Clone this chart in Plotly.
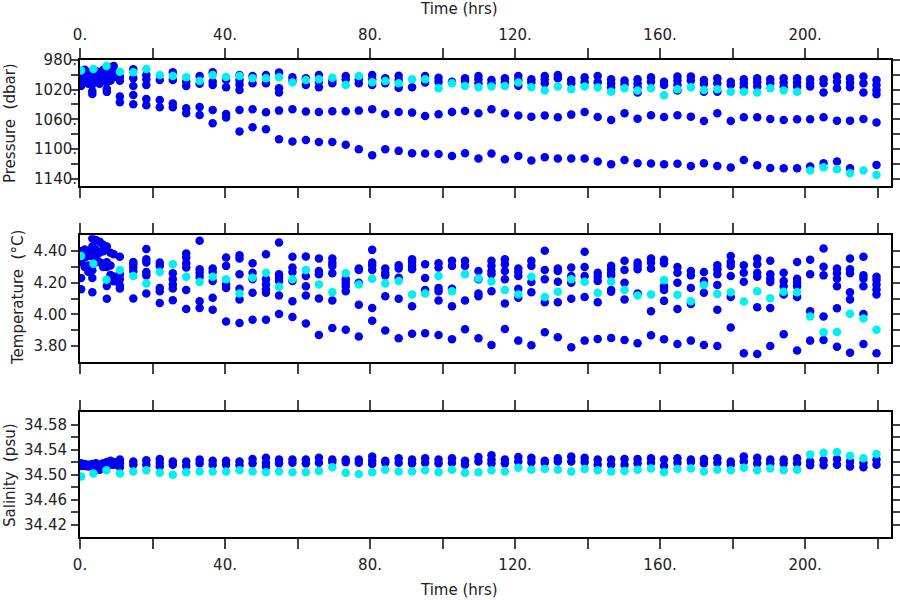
import plotly.graph_objects as go

# ---------------- data ----------------
# regular sampling times (hrs) after the initial burst
T_GRID = [11.0, 14.7, 18.3, 22.0, 25.6, 29.3, 33.0, 36.6, 40.3, 44.0,
          47.6, 51.3, 54.9, 58.6, 62.3, 65.9, 69.6, 73.3, 76.9, 80.6,
          84.2, 87.9, 91.6, 95.2, 98.9, 102.6, 106.2, 109.9, 113.5, 117.2,
          120.9, 124.5, 128.2, 131.8, 135.5, 139.2, 142.8, 146.5, 150.2, 153.8,
          157.5, 161.1, 164.8, 168.5, 172.1, 175.8, 179.5, 183.1, 186.8, 190.4,
          194.1, 197.8, 201.4, 205.1, 208.8, 212.4, 216.1, 219.7]
# initial burst of blue samples, and early cyan samples
EARLY_T = [0.3, 1.3, 2.3, 3.4, 4.4, 5.4, 6.4, 7.4, 8.4, 9.3]
CYAN_EARLY_T = [0.3, 3.7, 7.3]

# Pressure (dbar)
pres_blue_early = [
    [1000, 1008, 1015], [993, 1003, 1010], [997, 1005, 1012],
    [1000, 1007, 1013, 1022, 1026], [995, 1003, 1010], [998, 1006, 1012],
    [993, 1000, 1008], [997, 1004, 1010, 1019, 1023], [990, 1000, 1008],
    [988, 996, 1003]]
pres_cyan_early = [994, 992, 988]
pres_blue = [
    [1002.4, 1008, 1029.4, 1037.0], [992.5, 1004.7, 1015, 1027.2, 1039.7],
    [1000.2, 1006, 1013.7, 1032.5, 1041.1], [1006.9, 1033.9, 1043.8],
    [996.6, 1006.9, 1038.8, 1043.8], [1009.2, 1015, 1045.1, 1051.9],
    [1001.5, 1012, 1043.3, 1054.1], [996.6, 1009.2, 1013.7, 1047.4, 1065.3],
    [1006.9, 1016.8, 1052.8, 1057.7], [1000.2, 1006.9, 1013, 1020.4, 1047.4, 1076.6],
    [1001.5, 1011.4, 1046.5, 1070.7], [1000.2, 1011.4, 1050.5, 1073.4],
    [997.0, 1018, 1024, 1048.3, 1086.9], [1003.3, 1008, 1046.5, 1090.1],
    [1004.7, 1013.7, 1049.6, 1087.8], [1000.2, 1009.2, 1016.8, 1050.1, 1090.5],
    [1008, 1011.4, 1049.2, 1090.5], [1001.5, 1006.0, 1049.2, 1094.5],
    [1006.0, 1011.4, 1048.3, 1100.4], [1000.2, 1006.0, 1013.7, 1046.5, 1108.5],
    [1004.7, 1011.4, 1052.8, 1100.4], [1001.1, 1006.9, 1017.3, 1050.1, 1102.6],
    [1016.8, 1051.0, 1105.8], [1001.5, 1010.5, 1055.5, 1106.2],
    [1003.8, 1009.2, 1053.2, 1106.7], [1009.2, 1050.1, 1109.4],
    [1004.7, 1008.3, 1048.7, 1105.8], [1001.5, 1006.0, 1011.4, 1051.9, 1113.0],
    [1006.9, 1011.4, 1046.5, 1106.2], [1004.7, 1010.1, 1051.9, 1113.9],
    [1001.5, 1006.9, 1014.6, 1055.0, 1109.4], [1006.0, 1010.1, 1056.4, 1115.7],
    [1001.5, 1006.0, 1011.4, 1055.0, 1111.2], [1000.2, 1004.7, 1057.3, 1113.0],
    [1006.9, 1011.4, 1053.7, 1113.0], [1003.3, 1010.1, 1050.1, 1113.0],
    [1001.5, 1010.1, 1057.0, 1117.0], [1006.0, 1011.4, 1016.8, 1060.9, 1120.6],
    [1007.8, 1012.8, 1051.9, 1114.8], [1006.0, 1011.4, 1016.8, 1024.0, 1059.1, 1119.3],
    [1003.3, 1009.2, 1054.6, 1119.7], [1009.2, 1013.7, 1056.8, 1120.6],
    [1002.4, 1007.8, 1013.7, 1021.3, 1054.6, 1120.0], [1002.4, 1007.8, 1056.4, 1122.9],
    [1006.9, 1012.3, 1022.7, 1062.2, 1119.3], [1004.7, 1011.4, 1022.7, 1051.9, 1122.9],
    [1009.2, 1013.7, 1062.2, 1125.1], [1006.0, 1011.4, 1016.8, 1057.3, 1114.8],
    [1004.7, 1010.1, 1015.9, 1057.3, 1122.0], [1006.0, 1011.4, 1059.5, 1125.6],
    [1004.7, 1010.5, 1015.9, 1060.9, 1126.0], [1004.7, 1010.5, 1015.9, 1060.0, 1126.0],
    [1006.0, 1011.4, 1015.9, 1060.0, 1123.8], [1006.0, 1011.4, 1024.0, 1057.3, 1119.3],
    [1002.4, 1009.2, 1018.2, 1061.8, 1117.0], [1004.7, 1010.5, 1016.8, 1061.8, 1126.0],
    [1002.4, 1011.4, 1024.0, 1059.5], [1006.9, 1013.7, 1020.4, 1026.3, 1064.4, 1121.5]]
pres_cyan = [995.7, 996.6, 992.1, 1000.2, 1001.5, 1003.3, 1008.3, 1000.2, 1002.9, 1001.5,
             1004.7, 1004.7, 1003.3, 1010.5, 1006.9, 1006.0, 1003.8, 1013.7, 1001.5, 1010.1,
             1008.3, 1011.4, 1006.0, 1006.0, 1018.2, 1011.4, 1015.0, 1016.8, 1015.9, 1015.0,
             1010.5, 1016.8, 1021.3, 1015.9, 1019.5, 1015.9, 1017.0, 1022.7, 1018.2, 1021.3,
             1018.2, 1027.6, 1019.5, 1016.8, 1020.4, 1019.5, 1022.7, 1022.7, 1024.0, 1018.2,
             1021.3, 1022.7, 1129.1, 1124.7, 1127.3, 1132.7, 1129.1, 1135.0]

# Temperature (deg C)
temp_blue_early = [
    [4.40, 4.33, 4.23, 4.16], [4.41, 4.36, 4.30], [4.40, 4.37, 4.31, 4.27],
    [4.48, 4.43, 4.37, 4.28, 4.23, 4.14], [4.47, 4.41, 4.36, 4.33], [4.46, 4.39, 4.33],
    [4.44, 4.40, 4.32, 4.30], [4.43, 4.33, 4.30, 4.18, 4.10], [4.39, 4.31, 4.25, 4.22],
    [4.38, 4.24, 4.21]]
temp_cyan_early = [4.37, 4.32, 4.22]
temp_blue = [
    [4.364, 4.254, 4.222, 4.183, 4.164], [4.332, 4.317, 4.296, 4.275, 4.101],
    [4.413, 4.349, 4.328, 4.268, 4.247, 4.133], [4.328, 4.307, 4.168, 4.147, 4.073],
    [4.26, 4.222, 4.19, 4.164, 4.09], [4.385, 4.36, 4.324, 4.296, 4.154, 4.035],
    [4.466, 4.285, 4.264, 4.239, 4.084, 4.041], [4.29, 4.268, 4.211, 4.105, 4.03],
    [4.36, 4.307, 4.19, 4.168, 3.956], [4.374, 4.353, 4.254, 4.162, 4.094, 3.946],
    [4.324, 4.264, 4.222, 4.137, 3.967], [4.381, 4.222, 4.19, 4.158, 4.137, 3.967],
    [4.455, 4.254, 4.232, 4.211, 4.12, 4.003], [4.364, 4.296, 4.268, 4.211, 4.084, 3.984],
    [4.366, 4.243, 4.179, 4.12, 3.943], [4.353, 4.275, 4.254, 4.101, 3.871],
    [4.353, 4.328, 4.307, 4.26, 4.088, 3.914], [4.222, 4.2, 4.179, 4.147, 3.903],
    [4.29, 4.281, 4.2, 4.062, 3.861], [4.408, 4.328, 4.307, 4.281, 4.041, 3.96],
    [4.29, 4.264, 4.247, 4.115, 3.899], [4.311, 4.29, 4.232, 4.099, 3.85],
    [4.349, 4.332, 4.307, 4.285, 4.052, 3.878], [4.317, 4.23, 4.154, 3.882],
    [4.324, 4.296, 4.168, 4.147, 4.088, 3.871], [4.339, 4.307, 4.162, 4.052, 3.844],
    [4.339, 4.307, 4.088, 3.907], [4.275, 4.222, 4.133, 4.115, 3.85],
    [4.339, 4.307, 4.275, 4.254, 4.147, 3.808], [4.349, 4.317, 4.275, 4.222, 4.069, 3.909],
    [4.29, 4.268, 4.243, 4.162, 4.105, 3.835], [4.339, 4.307, 4.205, 4.141, 3.806],
    [4.402, 4.281, 4.222, 4.077, 3.888], [4.29, 4.275, 4.207, 4.077, 3.857],
    [4.296, 4.243, 4.2, 4.099, 3.793], [4.396, 4.3, 4.243, 4.111, 3.835],
    [4.264, 4.239, 4.211, 4.077, 3.846], [4.307, 4.285, 4.264, 4.247, 4.154, 4.143, 3.852],
    [4.339, 4.281, 4.2, 4.094, 3.839], [4.328, 4.307, 4.285, 4.133, 3.818],
    [4.353, 4.328, 4.29, 4.02, 3.869], [4.345, 4.324, 4.179, 4.154, 4.086, 3.844],
    [4.3, 4.264, 4.2, 4.035, 3.814], [4.275, 4.247, 4.168, 4.067, 3.835],
    [4.268, 4.211, 4.137, 3.808], [4.311, 4.285, 4.254, 4.186, 4.03, 3.801],
    [4.37, 4.332, 4.307, 4.243, 4.111, 3.918], [4.311, 4.264, 4.207, 3.755],
    [4.353, 4.317, 4.264, 4.239, 4.045, 3.75], [4.339, 4.254, 4.226, 4.205, 4.041, 3.801],
    [4.264, 4.211, 4.179, 4.126, 3.876], [4.332, 4.226, 4.2, 4.179, 4.111, 3.772],
    [4.345, 4.254, 4.02, 3.835], [4.417, 4.302, 4.247, 3.988, 3.839],
    [4.29, 4.26, 4.226, 4.179, 4.039, 3.797], [4.353, 4.285, 4.26, 4.141, 4.094, 3.759],
    [4.364, 4.247, 4.226, 4.179, 4.003, 3.814], [4.239, 4.218, 4.19, 4.158, 4.126, 3.755]]
temp_cyan = [4.281, 4.243, 4.196, 4.268, 4.317, 4.239, 4.205, 4.239, 4.222, 4.133,
             4.232, 4.264, 4.175, 4.222, 4.281, 4.19, 4.141, 4.26, 4.19, 4.226,
             4.196, 4.211, 4.126, 4.133, 4.243, 4.147, 4.254, 4.228, 4.209, 4.154,
             4.126, 4.239, 4.111, 4.143, 4.222, 4.207, 4.137, 4.209, 4.154, 4.12,
             4.126, 4.217, 4.124, 4.084, 4.186, 4.13, 4.141, 4.082, 4.147, 4.103,
             4.143, 4.141, 3.988, 3.888, 3.89, 4.005, 3.975, 3.903]

# Salinity (psu)
sal_blue_early = [
    [34.518, 34.514], [34.517, 34.514], [34.516, 34.513], [34.517, 34.513],
    [34.518, 34.514], [34.516, 34.511, 34.508], [34.518, 34.513], [34.520, 34.515],
    [34.522, 34.516], [34.520, 34.516]]
sal_cyan_early = [34.497, 34.502, 34.507]
sal_blue = [
    [34.524, 34.518, 34.512], [34.521, 34.516], [34.523, 34.516], [34.525, 34.519, 34.513],
    [34.521, 34.516], [34.521, 34.514], [34.524, 34.518], [34.522, 34.516],
    [34.522, 34.516], [34.521, 34.515], [34.525, 34.518], [34.527, 34.519, 34.513],
    [34.524, 34.518], [34.524, 34.519], [34.524, 34.518], [34.527, 34.519],
    [34.524, 34.520], [34.524, 34.520], [34.524, 34.519], [34.529, 34.522, 34.517],
    [34.522, 34.519], [34.526, 34.519], [34.524, 34.518], [34.526, 34.519],
    [34.524, 34.518], [34.526, 34.519], [34.522, 34.516], [34.528, 34.521],
    [34.531, 34.524, 34.518], [34.524, 34.518], [34.528, 34.521], [34.527, 34.520],
    [34.522, 34.519], [34.526, 34.521], [34.529, 34.521], [34.527, 34.520],
    [34.524, 34.516], [34.524, 34.516], [34.525, 34.516], [34.525, 34.518],
    [34.526, 34.519], [34.524, 34.514], [34.526, 34.519], [34.524, 34.520],
    [34.525, 34.518], [34.526, 34.519], [34.521, 34.516], [34.529, 34.521],
    [34.527, 34.518], [34.524, 34.518], [34.524, 34.518], [34.526, 34.518],
    [34.521, 34.515], [34.523, 34.515], [34.525, 34.516], [34.521, 34.513],
    [34.519, 34.512], [34.524, 34.516]]
sal_cyan = [34.502, 34.505, 34.507, 34.503, 34.500, 34.504, 34.505, 34.505, 34.505, 34.507,
            34.505, 34.504, 34.505, 34.504, 34.504, 34.506, 34.512, 34.503, 34.501, 34.504,
            34.508, 34.505, 34.505, 34.507, 34.504, 34.508, 34.503, 34.504, 34.507, 34.505,
            34.511, 34.508, 34.509, 34.508, 34.505, 34.509, 34.507, 34.505, 34.506, 34.508,
            34.510, 34.504, 34.509, 34.510, 34.505, 34.508, 34.507, 34.511, 34.507, 34.510,
            34.507, 34.508, 34.532, 34.535, 34.536, 34.530, 34.526, 34.533]

X_TICKS = [0, 20, 40, 60, 80, 100, 120, 140, 160, 180, 200, 220]
X_LABELS = ["0.", "", "40.", "", "80.", "", "120.", "", "160.", "", "200.", ""]
P_TICKS = [980, 1000, 1020, 1040, 1060, 1080, 1100, 1120, 1140]
P_LABELS = ["980.", "", "1020.", "", "1060.", "", "1100.", "", "1140."]
T_TICKS = [3.8, 3.9, 4.0, 4.1, 4.2, 4.3, 4.4]
T_LABELS = ["3.80", "", "4.00", "", "4.20", "", "4.40"]
S_TICKS = [34.42, 34.44, 34.46, 34.48, 34.50, 34.52, 34.54, 34.56, 34.58]
S_LABELS = ["34.42", "", "34.46", "", "34.50", "", "34.54", "", "34.58"]

BLUE = "#0000F0"
CYAN = "#00F0F0"
FONT = "DejaVu Sans"

W, H = 900, 600


def px(x):
    return x / W


def py(y):
    return 1 - y / H


def flatten(times, groups):
    xs, ys = [], []
    for t, vals in zip(times, groups):
        for v in vals:
            xs.append(t)
            ys.append(v)
    return xs, ys


fig = go.Figure()
panels = [
    ("y", pres_blue_early, pres_cyan_early, pres_blue, pres_cyan),
    ("y2", temp_blue_early, temp_cyan_early, temp_blue, temp_cyan),
    ("y3", sal_blue_early, sal_cyan_early, sal_blue, sal_cyan),
]
xnames = {"y": "x", "y2": "x2", "y3": "x3"}
for yname, be, ce, bl, cy in panels:
    x1, y1 = flatten(EARLY_T, be)
    x2, y2 = flatten(T_GRID, bl)
    fig.add_trace(go.Scatter(x=x1 + x2, y=y1 + y2, mode="markers",
                             marker=dict(color=BLUE, size=8.5, line=dict(width=0)),
                             xaxis=xnames[yname], yaxis=yname, showlegend=False))
    fig.add_trace(go.Scatter(x=CYAN_EARLY_T + T_GRID, y=ce + cy, mode="markers",
                             marker=dict(color=CYAN, size=8.5, line=dict(width=0)),
                             xaxis=xnames[yname], yaxis=yname, showlegend=False))

XDOM = [px(80), px(891)]
XR = [0, 223.7]
tickfont = dict(family=FONT, size=15, color="#222222")


def xax(side, show, anchor, standoff):
    return dict(domain=XDOM, range=XR, anchor=anchor, side=side, automargin=False,
                tickmode="array", tickvals=X_TICKS, ticktext=X_LABELS,
                showticklabels=show, ticks="outside", ticklen=10, tickwidth=2,
                tickcolor="#444444", showline=True, linecolor="black", linewidth=2,
                mirror="allticks", showgrid=False, zeroline=False, tickfont=tickfont,
                ticklabelstandoff=standoff)


def yax(dom, rng, tv, tt, anchor, standoff):
    return dict(domain=dom, range=rng, anchor=anchor, automargin=False, tickmode="array",
                tickvals=tv, ticktext=tt, ticks="outside", ticklen=7, tickwidth=2,
                tickcolor="#444444", showline=True, linecolor="black", linewidth=2,
                mirror="allticks", showgrid=False, zeroline=False, tickfont=tickfont,
                ticklabelstandoff=standoff)


fig.update_layout(
    width=W, height=H,
    margin=dict(l=0, r=0, t=0, b=0, autoexpand=False),
    paper_bgcolor="white", plot_bgcolor="white",
    xaxis=xax("top", True, "y", 2),
    xaxis2=xax("bottom", False, "y2", 0),
    xaxis3=xax("bottom", True, "y3", 3),
    yaxis=yax([py(186), py(60)], [1150, 980], P_TICKS, P_LABELS, "x", -9),
    yaxis2=yax([py(362), py(235.3)], [3.7, 4.5], T_TICKS, T_LABELS, "x2", 1),
    yaxis3=yax([py(537.3), py(412)], [34.40, 34.60], S_TICKS, S_LABELS, "x3", 1),
)

titlefont = dict(family=FONT, size=15, color="#222222")
ann = [
    dict(text="Time (hrs)", x=px(459), y=py(9)),
    dict(text="Time (hrs)", x=px(459), y=py(590)),
    dict(text="Pressure  (dbar)", x=px(10), y=py(123), textangle=-90),
    dict(text="Temperature  (°C)", x=px(18), y=py(298), textangle=-90),
    dict(text="Salinity  (psu)", x=px(10), y=py(475), textangle=-90),
]
for a in ann:
    fig.add_annotation(xref="paper", yref="paper", showarrow=False,
                       xanchor="center", yanchor="middle", font=titlefont, **a)

# remove the browser's default 8px body margin so the figure fills the window
fig.write_html("out.html", config={"displayModeBar": False},
               post_script="document.body.style.margin='0';document.body.style.overflow='hidden';")
